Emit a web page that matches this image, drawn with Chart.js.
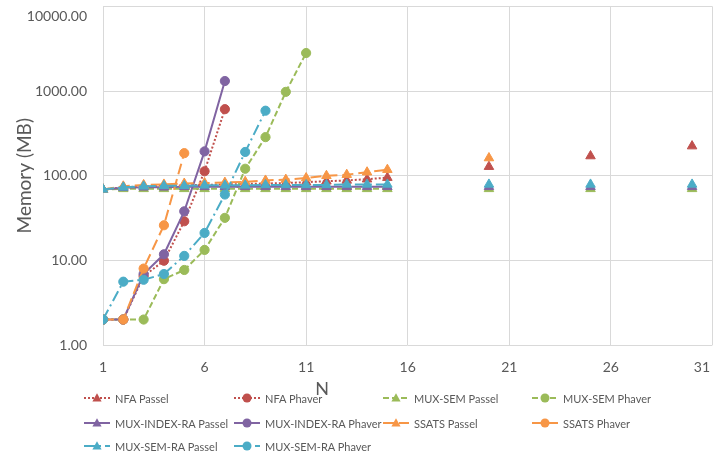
<!DOCTYPE html>
<html><head><meta charset="utf-8">
<script src="https://cdn.jsdelivr.net/npm/chart.js@4/dist/chart.umd.min.js"></script>
<style>
html,body{margin:0;padding:0;background:#fff;overflow:hidden;width:721px;height:453px;}
#wrap{position:absolute;left:0;top:0;width:745px;height:453px;}
#legend{position:absolute;left:0;top:0;width:721px;height:453px;pointer-events:none;font-family:Lato,"Open Sans",sans-serif;font-size:11px;color:#595959;}
.item{position:absolute;height:16px;display:flex;align-items:center;white-space:nowrap;transform:translateY(-50%);}
.item svg{margin-right:5px;flex:none;}
</style></head>
<body>
<div id="wrap"><canvas id="c"></canvas></div>
<div id="legend"></div>
<script>
// ---- data ----
const N = [1,2,3,4,5,6,7,8,9,10,11,12,13,14,15,20,25,30];
const nfaPassel        = [69,73,75,76,77,78,79,80,81,82,84,86,88,91,95,128,171,224];
const nfaPhaver        = [2,2,6.5,9.9,29,113,612];
const muxSemPassel     = [69,70,70,70,70,70,70,70,70,70,70,70,70,70,70,70,70,70];
const muxSemPhaver     = [2,2,2,6,7.7,13.3,31.8,121,286,980,2820];
const muxIndexRaPassel = [69,72,73,73,74,74,74,74,74,74,74,74,74,74,74,74,74,74];
const muxIndexRaPhaver = [2,2,6.9,11.8,38,194,1316];
const ssatsPassel      = [69,75,78,79,81,82,83,85,88,90,94,100,103,110,118,162];
const ssatsPhaver      = [2,2,8,26,185];
const muxSemRaPassel   = [69,73,75,76,76,77,77,77,78,78,78,78,79,79,79,79,79,79];
const muxSemRaPhaver   = [2,5.6,5.9,6.9,11.3,21.1,60,191,587];
const xTicks = [1,6,11,16,21,26,31];
const yTicks = [1,10,100,1000,10000];

const RED='#C0504D', GREEN='#9BBB59', PURPLE='#8064A2', ORANGE='#F79646', CYAN='#4BACC6';
const series = [
  {label:'NFA Passel', values:nfaPassel, color:RED, dash:[2,2], point:'triangle'},
  {label:'NFA Phaver', values:nfaPhaver, color:RED, dash:[2,2], point:'circle'},
  {label:'MUX-SEM Passel', values:muxSemPassel, color:GREEN, dash:[6,3], point:'triangle'},
  {label:'MUX-SEM Phaver', values:muxSemPhaver, color:GREEN, dash:[6,3], point:'circle'},
  {label:'MUX-INDEX-RA Passel', values:muxIndexRaPassel, color:PURPLE, dash:[], point:'triangle'},
  {label:'MUX-INDEX-RA Phaver', values:muxIndexRaPhaver, color:PURPLE, dash:[], point:'circle'},
  {label:'SSATS Passel', values:ssatsPassel, color:ORANGE, dash:[11,5], point:'triangle'},
  {label:'SSATS Phaver', values:ssatsPhaver, color:ORANGE, dash:[11,5], point:'circle'},
  {label:'MUX-SEM-RA Passel', values:muxSemRaPassel, color:CYAN, dash:[11,4,2,4], point:'triangle'},
  {label:'MUX-SEM-RA Phaver', values:muxSemRaPhaver, color:CYAN, dash:[11,4,2,4], point:'circle'}
];

function toPoints(vals){
  const pts=[];
  vals.forEach((v,i)=>{
    if(i>0 && N[i]-N[i-1]>1) pts.push({x:(N[i]+N[i-1])/2, y:null});
    pts.push({x:N[i], y:v});
  });
  return pts;
}

const datasets = series.map((s,i)=>({
  label:s.label,
  data:toPoints(s.values),
  showLine:true,
  spanGaps:false,
  borderColor:s.color,
  backgroundColor:s.color,
  borderWidth:2,
  borderDash:s.dash,
  pointStyle:s.point,
  pointRadius:s.point==='triangle'?5.5:4.6,
  pointBorderWidth:1,
  pointBorderColor:s.color,
  pointBackgroundColor:s.color,
  order:series.length-i
}));

const FONT='Lato, "Open Sans", sans-serif';
new Chart(document.getElementById('c'),{
  type:'scatter',
  data:{datasets},
  options:{
    responsive:true, maintainAspectRatio:false, animation:false,
    layout:{padding:{left:0,top:3,right:21,bottom:0}},
    plugins:{legend:{display:false},tooltip:{enabled:false}},
    scales:{
      x:{
        type:'linear', min:1, max:31,
        afterBuildTicks:s=>{s.ticks=xTicks.map(v=>({value:v}));},
        afterFit:s=>{s.height=108;},
        grid:{color:'#d9d9d9',lineWidth:1,drawTicks:false},
        border:{display:false},
        ticks:{color:'#595959',font:{family:FONT,size:14},padding:14,maxRotation:0,
          callback:v=> v===31 ? '31\u2002\u2002\u2002' : String(v)},
        title:{display:true,text:'N'+'\u2003'.repeat(12)+'\u2002',color:'#595959',font:{family:FONT,size:18},padding:{top:0,bottom:53}}
      },
      y:{
        type:'logarithmic', min:1, max:10000,
        afterBuildTicks:s=>{s.ticks=yTicks.map(v=>({value:v}));},
        afterFit:s=>{s.width=103; s.paddingTop=0; s.paddingBottom=0;},
        grid:{color:'#d9d9d9',lineWidth:1,drawTicks:false},
        border:{display:false},
        ticks:{color:'#595959',padding:16,
          font:ctx=> (ctx.tick && ctx.tick.value===10000) ? {family:FONT,size:14,lineHeight:'20px'} : {family:FONT,size:14},
          callback:v=> v===10000 ? ['', Number(v).toFixed(2)] : Number(v).toFixed(2)},
        title:{display:true,text:'Memory (MB)',color:'#595959',font:{family:FONT,size:19},padding:{top:13,bottom:0}}
      }
    }
  }
});

// ---- HTML legend (4 columns) ----
const colX=[84,234,383,532], rowY=[398,423,446];
const lg=document.getElementById('legend');
series.forEach((s,i)=>{
  const d=document.createElement('div');
  d.className='item';
  d.style.left=colX[i%4]+'px';
  d.style.top=rowY[Math.floor(i/4)]+'px';
  const dash=s.dash.length?`stroke-dasharray="${s.dash.join(',')}"`:'';
  const mk=s.point==='circle'
    ? `<circle cx="13" cy="6" r="4.5" fill="${s.color}"/>`
    : `<polygon points="13,1.2 17.6,9.5 8.4,9.5" fill="${s.color}"/>`;
  d.innerHTML=`<svg width="26" height="12" viewBox="0 0 26 12"><line x1="0" y1="6" x2="26" y2="6" stroke="${s.color}" stroke-width="2" ${dash}/>${mk}</svg>`;
  const t=document.createElement('span'); t.textContent=s.label; d.appendChild(t);
  lg.appendChild(d);
});
</script>
</body></html>
